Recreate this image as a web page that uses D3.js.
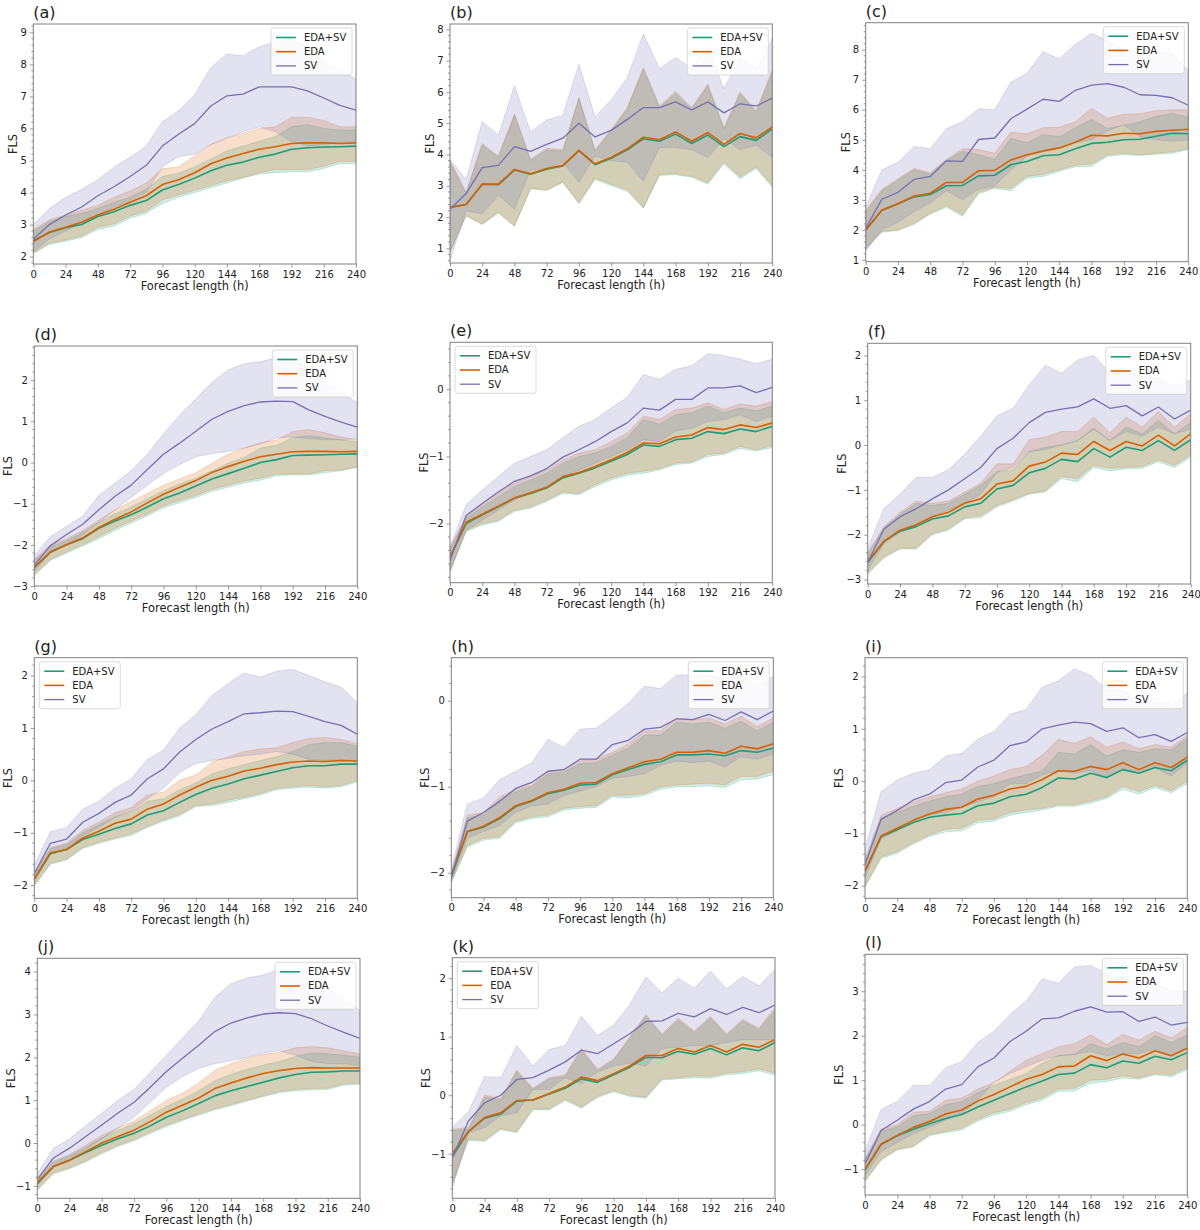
<!DOCTYPE html>
<html>
<head>
<meta charset="utf-8">
<title>FLS vs forecast length</title>
<script src="https://d3js.org/d3.v7.min.js"></script>
<style>
  body { margin: 0; background: #fff; }
  text { font-family: "DejaVu Sans", sans-serif; }
</style>
</head>
<body>
<div id="chart"></div>
<script>
// forecast hours and labels
var hours = [0,12,24,36,48,60,72,84,96,108,120,132,144,156,168,180,192,204,216,228,240];
var xTicks = [0,24,48,72,96,120,144,168,192,216,240];
var seriesNames = ["EDA+SV", "EDA", "SV"];
var panelLabels = ["(a)","(b)","(c)","(d)","(e)","(f)","(g)","(h)","(i)","(j)","(k)","(l)"];

// (a)
var a_edasv    = [2.50,2.75,2.90,3.00,3.25,3.40,3.60,3.75,4.08,4.25,4.45,4.68,4.85,4.95,5.10,5.20,5.35,5.40,5.42,5.43,5.45];
var a_edasv_lo = [2.10,2.38,2.48,2.60,2.85,2.95,3.20,3.35,3.65,3.85,4.00,4.15,4.30,4.45,4.58,4.62,4.65,4.65,4.75,4.90,4.90];
var a_edasv_hi = [2.80,3.10,3.25,3.35,3.50,3.70,3.85,4.10,4.50,4.60,4.80,5.05,5.30,5.45,5.60,5.75,6.05,6.12,6.00,5.95,5.95];
var a_eda      = [2.47,2.77,2.92,3.07,3.30,3.48,3.70,3.90,4.25,4.40,4.62,4.90,5.08,5.22,5.35,5.43,5.53,5.55,5.55,5.53,5.55];
var a_eda_lo   = [2.12,2.42,2.52,2.64,2.92,3.02,3.27,3.42,3.77,3.92,4.07,4.22,4.37,4.47,4.62,4.72,4.72,4.72,4.82,4.97,4.97];
var a_eda_hi   = [2.85,3.15,3.30,3.45,3.60,3.85,4.05,4.30,4.75,4.80,5.15,5.50,5.70,5.85,6.00,6.05,6.35,6.35,6.25,6.05,6.05];
var a_sv       = [2.55,3.00,3.30,3.55,3.90,4.18,4.50,4.85,5.45,5.82,6.15,6.70,7.02,7.07,7.30,7.30,7.30,7.17,6.95,6.72,6.57];
var a_sv_lo    = [2.15,2.55,2.80,3.05,3.30,3.55,3.75,4.00,4.80,5.12,5.20,5.50,5.70,5.90,6.05,5.90,5.60,5.45,5.50,5.55,5.60];
var a_sv_hi    = [3.00,3.50,3.85,4.10,4.40,4.80,5.10,5.45,6.22,6.55,7.05,7.90,8.32,8.27,8.55,8.70,8.80,8.55,8.10,7.80,7.55];
var a_yticks   = [2,3,4,5,6,7,8,9];

// (b)
var b_edasv    = [2.30,2.40,3.05,3.03,3.50,3.37,3.53,3.63,4.12,3.67,3.88,4.15,4.50,4.42,4.65,4.35,4.62,4.25,4.57,4.45,4.82];
var b_edasv_lo = [0.88,2.03,1.76,2.13,1.70,2.90,2.85,3.10,2.43,3.20,3.00,2.82,2.28,3.33,3.35,3.27,3.05,3.70,3.22,3.55,2.95];
var b_edasv_hi = [3.75,2.75,4.30,3.90,5.25,3.80,4.15,4.10,5.78,4.10,4.75,5.45,6.72,5.50,5.95,5.45,6.20,4.80,5.95,5.35,6.62];
var b_eda      = [2.32,2.40,3.05,3.05,3.52,3.38,3.55,3.65,4.13,3.70,3.90,4.18,4.55,4.47,4.72,4.42,4.70,4.32,4.67,4.53,4.88];
var b_eda_lo   = [0.90,2.05,1.78,2.15,1.72,2.92,2.87,3.12,2.45,3.25,3.05,2.87,2.30,3.37,3.38,3.30,3.10,3.75,3.28,3.60,3.00];
var b_eda_hi   = [3.80,2.80,4.35,3.95,5.30,3.85,4.20,4.15,5.82,4.15,4.80,5.50,6.78,5.55,6.02,5.50,6.25,4.85,6.00,5.40,6.70];
var b_sv       = [2.25,2.75,3.58,3.65,4.25,4.10,4.32,4.52,5.00,4.56,4.77,5.12,5.50,5.50,5.68,5.42,5.68,5.33,5.62,5.55,5.80];
var b_sv_lo    = [0.60,2.20,2.10,2.70,2.25,3.50,3.55,3.75,3.10,3.95,3.80,3.75,3.15,4.22,4.22,4.15,3.90,4.50,4.15,4.30,3.90];
var b_sv_hi    = [3.85,3.20,5.05,4.62,6.20,4.72,5.10,5.25,6.88,5.20,5.75,6.45,7.85,6.75,7.10,6.75,7.45,6.10,7.10,6.75,7.70];
var b_yticks   = [1,2,3,4,5,6,7,8];

// (c)
var c_edasv    = [2.00,2.65,2.87,3.10,3.18,3.47,3.48,3.80,3.82,4.17,4.28,4.47,4.50,4.70,4.88,4.92,5.00,5.02,5.12,5.22,5.20];
var c_edasv_lo = [1.35,1.92,1.98,2.18,2.52,2.75,2.45,3.20,3.38,3.30,3.72,3.78,3.95,4.10,4.12,4.45,4.50,4.48,4.52,4.55,4.68];
var c_edasv_hi = [2.60,3.30,3.65,4.00,3.85,4.30,4.62,4.50,4.35,5.05,4.90,5.18,5.10,5.40,5.68,5.38,5.48,5.60,5.78,5.88,5.75];
var c_eda      = [2.00,2.65,2.87,3.13,3.22,3.58,3.58,3.97,3.98,4.33,4.50,4.63,4.73,4.92,5.15,5.13,5.22,5.20,5.28,5.32,5.35];
var c_eda_lo   = [1.40,1.95,2.00,2.22,2.55,2.80,2.50,3.25,3.42,3.38,3.78,3.85,4.00,4.15,4.20,4.50,4.55,4.50,4.55,4.60,4.70];
var c_eda_hi   = [2.65,3.35,3.70,4.05,3.90,4.35,4.70,4.68,4.55,5.25,5.20,5.40,5.42,5.60,6.05,5.72,5.85,5.87,5.97,6.00,6.00];
var c_sv       = [2.05,3.02,3.25,3.68,3.78,4.30,4.28,5.01,5.06,5.70,6.02,6.35,6.28,6.65,6.82,6.87,6.75,6.50,6.48,6.40,6.15];
var c_sv_lo    = [1.30,2.00,2.25,2.60,2.90,3.30,3.00,3.35,3.45,4.00,4.45,4.60,4.70,4.90,5.00,5.30,5.50,5.10,5.00,4.95,5.00];
var c_sv_hi    = [2.75,4.00,4.25,4.78,4.70,5.37,5.60,6.03,6.00,6.92,7.22,7.93,7.70,8.18,8.55,8.30,8.00,7.95,7.90,7.88,7.30];
var c_yticks   = [1,2,3,4,5,6,7,8];

// (d)
var d_edasv    = [-2.55,-2.18,-2.00,-1.85,-1.60,-1.42,-1.27,-1.08,-0.88,-0.74,-0.57,-0.40,-0.27,-0.14,0.00,0.07,0.17,0.18,0.19,0.20,0.21];
var d_edasv_lo = [-2.75,-2.38,-2.20,-2.03,-1.85,-1.65,-1.47,-1.30,-1.10,-0.98,-0.85,-0.70,-0.60,-0.50,-0.43,-0.32,-0.30,-0.30,-0.25,-0.20,-0.12];
var d_edasv_hi = [-2.38,-2.05,-1.90,-1.70,-1.45,-1.25,-1.08,-0.88,-0.68,-0.52,-0.38,-0.20,-0.02,0.12,0.35,0.42,0.60,0.65,0.60,0.55,0.50];
var d_eda      = [-2.55,-2.17,-2.00,-1.83,-1.58,-1.38,-1.20,-0.98,-0.77,-0.60,-0.44,-0.24,-0.10,0.03,0.14,0.20,0.26,0.27,0.27,0.26,0.27];
var d_eda_lo   = [-2.72,-2.35,-2.17,-2.00,-1.80,-1.60,-1.42,-1.25,-1.05,-0.92,-0.80,-0.65,-0.55,-0.45,-0.38,-0.28,-0.28,-0.28,-0.20,-0.18,-0.10];
var d_eda_hi   = [-2.35,-2.00,-1.85,-1.65,-1.40,-1.15,-0.95,-0.75,-0.55,-0.40,-0.25,-0.02,0.20,0.35,0.48,0.55,0.75,0.80,0.72,0.62,0.55];
var d_sv       = [-2.50,-2.02,-1.75,-1.50,-1.15,-0.82,-0.55,-0.17,0.20,0.47,0.76,1.05,1.24,1.38,1.47,1.49,1.48,1.28,1.12,0.98,0.86];
var d_sv_lo    = [-2.65,-2.20,-2.00,-1.75,-1.45,-1.15,-0.85,-0.55,-0.27,-0.05,0.14,0.22,0.27,0.35,0.45,0.60,0.62,0.58,0.55,0.55,0.58];
var d_sv_hi    = [-2.25,-1.80,-1.55,-1.30,-0.80,-0.50,-0.20,0.20,0.70,1.15,1.55,1.95,2.25,2.40,2.45,2.55,2.50,2.30,2.00,1.70,1.45];
var d_yticks   = [-3,-2,-1,0,1,2];

// (e)
var e_edasv    = [-2.50,-2.00,-1.87,-1.75,-1.62,-1.55,-1.47,-1.32,-1.25,-1.17,-1.07,-0.97,-0.83,-0.85,-0.75,-0.73,-0.63,-0.66,-0.59,-0.63,-0.55];
var e_edasv_lo = [-2.72,-2.12,-2.02,-1.97,-1.82,-1.77,-1.67,-1.55,-1.57,-1.45,-1.35,-1.28,-1.25,-1.20,-1.12,-1.10,-1.00,-0.97,-0.88,-0.92,-0.87];
var e_edasv_hi = [-2.38,-1.92,-1.75,-1.60,-1.45,-1.35,-1.25,-1.10,-1.00,-0.95,-0.85,-0.72,-0.45,-0.52,-0.38,-0.35,-0.25,-0.35,-0.28,-0.32,-0.25];
var e_eda      = [-2.50,-1.98,-1.86,-1.74,-1.62,-1.54,-1.46,-1.30,-1.24,-1.15,-1.05,-0.94,-0.80,-0.81,-0.71,-0.68,-0.57,-0.60,-0.53,-0.57,-0.50];
var e_eda_lo   = [-2.70,-2.10,-2.00,-1.95,-1.80,-1.75,-1.65,-1.53,-1.55,-1.42,-1.32,-1.25,-1.22,-1.18,-1.10,-1.08,-0.97,-0.95,-0.85,-0.90,-0.84];
var e_eda_hi   = [-2.35,-1.90,-1.70,-1.55,-1.40,-1.30,-1.20,-1.05,-0.95,-0.90,-0.78,-0.65,-0.40,-0.45,-0.30,-0.28,-0.20,-0.30,-0.22,-0.25,-0.18];
var e_sv       = [-2.55,-1.88,-1.70,-1.53,-1.37,-1.29,-1.18,-1.01,-0.90,-0.78,-0.63,-0.50,-0.28,-0.31,-0.15,-0.15,0.02,0.02,0.05,-0.05,0.03];
var e_sv_lo    = [-2.70,-2.10,-1.95,-1.80,-1.65,-1.55,-1.45,-1.30,-1.20,-1.10,-1.00,-0.90,-0.75,-0.78,-0.62,-0.58,-0.48,-0.45,-0.38,-0.48,-0.40];
var e_sv_hi    = [-2.35,-1.72,-1.50,-1.30,-1.10,-1.00,-0.90,-0.72,-0.55,-0.45,-0.28,-0.12,0.22,0.15,0.30,0.35,0.53,0.50,0.45,0.38,0.45];
var e_yticks   = [-2,-1,0];

// (f)
var f_edasv    = [-2.62,-2.15,-1.92,-1.82,-1.65,-1.58,-1.38,-1.30,-0.98,-0.90,-0.62,-0.52,-0.32,-0.37,-0.08,-0.27,-0.05,-0.12,0.10,-0.12,0.12];
var f_edasv_lo = [-2.88,-2.52,-2.32,-2.32,-2.00,-1.90,-1.65,-1.62,-1.38,-1.25,-1.10,-1.05,-0.75,-0.82,-0.50,-0.58,-0.53,-0.52,-0.37,-0.50,-0.27];
var f_edasv_hi = [-2.45,-1.85,-1.55,-1.30,-1.35,-1.30,-1.10,-0.90,-0.60,-0.55,-0.15,-0.05,0.00,0.10,0.38,0.10,0.40,0.25,0.55,0.25,0.50];
var f_eda      = [-2.60,-2.15,-1.90,-1.78,-1.60,-1.50,-1.30,-1.20,-0.87,-0.80,-0.47,-0.38,-0.18,-0.21,0.08,-0.12,0.08,-0.02,0.22,-0.02,0.25];
var f_eda_lo   = [-2.85,-2.50,-2.30,-2.30,-1.98,-1.87,-1.62,-1.58,-1.35,-1.22,-1.08,-1.02,-0.70,-0.75,-0.45,-0.52,-0.50,-0.48,-0.33,-0.45,-0.22];
var f_eda_hi   = [-2.40,-1.82,-1.50,-1.25,-1.30,-1.25,-1.05,-0.85,-0.42,-0.42,0.12,0.18,0.30,0.30,0.62,0.28,0.62,0.40,0.75,0.40,0.70];
var f_sv       = [-2.62,-1.88,-1.60,-1.42,-1.20,-1.00,-0.75,-0.50,-0.08,0.15,0.50,0.73,0.80,0.85,1.03,0.82,0.88,0.65,0.85,0.58,0.78];
var f_sv_lo    = [-2.80,-2.20,-1.95,-1.80,-1.60,-1.45,-1.30,-1.10,-0.60,-0.50,-0.15,-0.10,0.00,0.10,0.35,0.10,0.30,0.20,0.40,0.25,0.35];
var f_sv_hi    = [-2.30,-1.42,-1.10,-0.72,-0.72,-0.55,-0.20,0.20,0.65,0.82,1.35,1.78,1.60,1.90,2.00,1.60,1.60,1.55,1.50,1.30,1.45];
var f_yticks   = [-3,-2,-1,0,1,2];

// (g)
var g_edasv    = [-1.88,-1.40,-1.32,-1.13,-1.03,-0.92,-0.83,-0.66,-0.58,-0.42,-0.27,-0.15,-0.07,0.03,0.10,0.17,0.24,0.28,0.28,0.31,0.31];
var g_edasv_lo = [-2.02,-1.60,-1.52,-1.30,-1.20,-1.12,-1.05,-0.90,-0.78,-0.68,-0.50,-0.48,-0.42,-0.35,-0.28,-0.18,-0.15,-0.13,-0.15,-0.12,-0.03];
var g_edasv_hi = [-1.80,-1.30,-1.23,-1.00,-0.85,-0.70,-0.60,-0.40,-0.35,-0.18,-0.05,0.12,0.22,0.30,0.38,0.45,0.55,0.68,0.72,0.72,0.65];
var g_eda      = [-1.88,-1.38,-1.32,-1.10,-0.97,-0.82,-0.74,-0.55,-0.45,-0.28,-0.13,0.00,0.08,0.18,0.23,0.30,0.35,0.37,0.36,0.38,0.37];
var g_eda_lo   = [-2.00,-1.58,-1.50,-1.28,-1.18,-1.10,-1.02,-0.88,-0.75,-0.65,-0.48,-0.45,-0.38,-0.32,-0.25,-0.15,-0.12,-0.10,-0.12,-0.10,0.00];
var g_eda_hi   = [-1.78,-1.28,-1.20,-0.95,-0.80,-0.62,-0.52,-0.28,-0.22,0.00,0.10,0.35,0.45,0.55,0.60,0.62,0.72,0.80,0.82,0.78,0.70];
var g_sv       = [-1.78,-1.20,-1.12,-0.80,-0.63,-0.42,-0.28,0.03,0.22,0.54,0.78,0.98,1.12,1.27,1.29,1.32,1.31,1.22,1.12,1.05,0.88];
var g_sv_lo    = [-1.95,-1.40,-1.30,-1.05,-0.90,-0.70,-0.58,-0.35,-0.15,0.15,0.32,0.38,0.42,0.47,0.50,0.55,0.50,0.40,0.38,0.40,0.35];
var g_sv_hi    = [-1.62,-0.98,-0.90,-0.55,-0.40,-0.15,0.03,0.40,0.58,1.00,1.25,1.62,1.85,2.05,1.97,2.08,2.12,2.00,1.88,1.78,1.48];
var g_yticks   = [-2,-1,0,1,2];

// (h)
var h_edasv    = [-2.05,-1.52,-1.47,-1.37,-1.23,-1.17,-1.08,-1.04,-0.98,-0.97,-0.86,-0.80,-0.74,-0.71,-0.63,-0.63,-0.62,-0.64,-0.58,-0.60,-0.55];
var h_edasv_lo = [-2.12,-1.70,-1.62,-1.60,-1.42,-1.37,-1.35,-1.27,-1.25,-1.24,-1.12,-1.13,-1.10,-1.03,-1.00,-1.00,-0.99,-1.01,-0.92,-0.91,-0.86];
var h_edasv_hi = [-2.02,-1.36,-1.33,-1.16,-1.06,-1.00,-0.85,-0.83,-0.73,-0.72,-0.63,-0.55,-0.40,-0.40,-0.25,-0.27,-0.25,-0.32,-0.24,-0.35,-0.25];
var h_eda      = [-2.03,-1.52,-1.46,-1.36,-1.22,-1.16,-1.07,-1.03,-0.96,-0.95,-0.85,-0.78,-0.71,-0.68,-0.60,-0.60,-0.58,-0.61,-0.53,-0.56,-0.50];
var h_eda_lo   = [-2.10,-1.68,-1.60,-1.58,-1.40,-1.35,-1.33,-1.25,-1.23,-1.22,-1.10,-1.10,-1.08,-1.00,-0.98,-0.97,-0.96,-0.98,-0.88,-0.88,-0.82];
var h_eda_hi   = [-2.00,-1.33,-1.30,-1.12,-1.03,-0.98,-0.82,-0.80,-0.70,-0.68,-0.60,-0.50,-0.35,-0.35,-0.20,-0.22,-0.20,-0.27,-0.18,-0.30,-0.20];
var h_sv       = [-2.05,-1.40,-1.30,-1.17,-1.02,-0.95,-0.82,-0.80,-0.68,-0.68,-0.51,-0.46,-0.33,-0.31,-0.21,-0.22,-0.16,-0.23,-0.13,-0.22,-0.12];
var h_sv_lo    = [-2.10,-1.60,-1.52,-1.45,-1.30,-1.22,-1.20,-1.10,-1.05,-1.00,-0.90,-0.88,-0.85,-0.75,-0.70,-0.72,-0.70,-0.77,-0.65,-0.68,-0.62];
var h_sv_hi    = [-1.95,-1.20,-1.13,-0.92,-0.82,-0.72,-0.45,-0.54,-0.33,-0.32,-0.18,-0.03,0.17,0.14,0.30,0.30,0.30,0.25,0.30,0.18,0.28];
var h_yticks   = [-2,-1,0];

// (i)
var i_edasv    = [-1.72,-1.06,-0.93,-0.79,-0.69,-0.65,-0.62,-0.47,-0.42,-0.30,-0.25,-0.12,0.06,0.04,0.15,0.07,0.22,0.15,0.26,0.20,0.40];
var i_edasv_lo = [-2.02,-1.48,-1.38,-1.20,-1.06,-0.97,-0.95,-0.80,-0.76,-0.65,-0.60,-0.55,-0.48,-0.48,-0.42,-0.33,-0.15,-0.25,-0.12,-0.22,-0.05];
var i_edasv_hi = [-1.55,-0.70,-0.60,-0.48,-0.38,-0.30,-0.25,-0.10,-0.05,0.05,0.12,0.20,0.55,0.52,0.70,0.48,0.60,0.55,0.62,0.60,0.82];
var i_eda      = [-1.72,-1.05,-0.90,-0.75,-0.63,-0.54,-0.50,-0.34,-0.27,-0.15,-0.10,0.03,0.20,0.19,0.28,0.22,0.35,0.22,0.35,0.26,0.46];
var i_eda_lo   = [-2.00,-1.45,-1.35,-1.18,-1.03,-0.92,-0.90,-0.75,-0.72,-0.60,-0.55,-0.52,-0.45,-0.45,-0.38,-0.30,-0.10,-0.20,-0.08,-0.18,0.00];
var i_eda_hi   = [-1.50,-0.65,-0.52,-0.40,-0.30,-0.22,-0.15,0.00,0.10,0.22,0.28,0.50,0.80,0.72,0.85,0.65,0.75,0.62,0.70,0.65,0.88];
var i_sv       = [-1.60,-0.73,-0.56,-0.36,-0.25,-0.03,0.02,0.27,0.40,0.68,0.75,1.00,1.07,1.13,1.10,0.95,1.02,0.83,0.89,0.76,0.93];
var i_sv_lo    = [-1.85,-1.10,-0.95,-0.75,-0.65,-0.60,-0.50,-0.40,-0.30,-0.05,-0.05,0.12,0.20,0.15,0.20,0.05,0.25,0.15,0.25,0.10,0.35];
var i_sv_hi    = [-1.30,-0.20,0.02,0.15,0.22,0.48,0.53,0.80,0.95,1.28,1.37,1.80,1.92,2.15,2.02,1.75,1.75,1.55,1.60,1.45,1.68];
var i_yticks   = [-2,-1,0,1,2];

// (j)
var j_edasv    = [-0.95,-0.55,-0.40,-0.22,-0.05,0.10,0.23,0.40,0.60,0.75,0.92,1.10,1.22,1.32,1.42,1.52,1.60,1.65,1.66,1.68,1.68];
var j_edasv_lo = [-1.10,-0.72,-0.60,-0.44,-0.25,-0.08,0.05,0.22,0.38,0.52,0.65,0.77,0.87,0.98,1.08,1.17,1.22,1.24,1.25,1.35,1.37];
var j_edasv_hi = [-0.85,-0.45,-0.30,-0.10,0.12,0.30,0.45,0.65,0.85,1.02,1.22,1.45,1.60,1.72,1.82,1.90,2.02,2.10,2.08,2.05,2.00];
var j_eda      = [-0.92,-0.55,-0.40,-0.20,0.00,0.15,0.30,0.50,0.72,0.88,1.05,1.27,1.40,1.52,1.62,1.69,1.74,1.76,1.75,1.75,1.75];
var j_eda_lo   = [-1.08,-0.70,-0.58,-0.42,-0.22,-0.05,0.08,0.25,0.42,0.55,0.68,0.80,0.90,1.00,1.10,1.20,1.25,1.27,1.28,1.38,1.40];
var j_eda_hi   = [-0.82,-0.42,-0.27,-0.05,0.18,0.35,0.52,0.75,1.00,1.16,1.40,1.70,1.85,1.98,2.07,2.12,2.22,2.25,2.22,2.15,2.08];
var j_sv       = [-0.85,-0.35,-0.12,0.15,0.42,0.70,0.95,1.30,1.67,1.98,2.28,2.60,2.80,2.92,3.01,3.04,3.02,2.90,2.73,2.58,2.44];
var j_sv_lo    = [-1.00,-0.55,-0.40,-0.15,0.10,0.35,0.60,0.95,1.30,1.55,1.74,1.85,1.92,2.00,2.10,2.15,2.05,1.90,1.85,1.85,1.80];
var j_sv_hi    = [-0.72,-0.12,0.10,0.40,0.70,1.00,1.25,1.65,2.05,2.45,2.85,3.40,3.72,3.85,3.92,4.05,3.95,3.80,3.60,3.35,3.10];
var j_yticks   = [-1,0,1,2,3,4];

// (k)
var k_edasv    = [-1.05,-0.62,-0.39,-0.32,-0.10,-0.08,0.02,0.12,0.28,0.22,0.35,0.48,0.65,0.64,0.75,0.70,0.80,0.69,0.81,0.76,0.90];
var k_edasv_lo = [-1.52,-0.77,-0.79,-0.59,-0.64,-0.25,-0.25,-0.09,-0.22,-0.04,0.06,-0.02,-0.05,0.26,0.28,0.30,0.29,0.35,0.37,0.42,0.34];
var k_edasv_hi = [-0.60,-0.58,-0.03,-0.08,0.40,0.10,0.28,0.32,0.77,0.42,0.60,0.97,1.35,1.02,1.28,1.07,1.32,1.02,1.27,1.12,1.45];
var k_eda      = [-1.00,-0.62,-0.38,-0.30,-0.09,-0.08,0.03,0.14,0.31,0.25,0.37,0.50,0.68,0.68,0.80,0.74,0.85,0.74,0.87,0.82,0.95];
var k_eda_lo   = [-1.50,-0.75,-0.77,-0.57,-0.62,-0.23,-0.23,-0.07,-0.20,-0.02,0.08,0.00,-0.03,0.28,0.30,0.33,0.32,0.38,0.40,0.45,0.38];
var k_eda_hi   = [-0.58,-0.55,0.00,-0.05,0.43,0.12,0.30,0.35,0.80,0.45,0.62,1.00,1.38,1.05,1.32,1.10,1.35,1.05,1.30,1.15,1.50];
var k_sv       = [-1.08,-0.44,-0.13,0.00,0.27,0.30,0.43,0.57,0.77,0.71,0.88,1.05,1.26,1.27,1.40,1.34,1.48,1.38,1.50,1.41,1.54];
var k_sv_lo    = [-1.60,-0.65,-0.55,-0.35,-0.30,0.10,0.10,0.30,0.20,0.40,0.50,0.55,0.50,0.80,0.82,0.85,0.85,0.90,0.95,0.95,0.95];
var k_sv_hi    = [-0.55,-0.28,0.32,0.30,0.85,0.50,0.78,0.85,1.35,1.02,1.20,1.55,2.02,1.75,2.00,1.83,2.12,1.82,2.03,1.87,2.15];
var k_yticks   = [-1,0,1,2];

// (l)
var l_edasv    = [-1.02,-0.44,-0.25,-0.10,0.02,0.14,0.23,0.40,0.55,0.70,0.85,0.98,1.13,1.16,1.35,1.28,1.43,1.38,1.54,1.46,1.62];
var l_edasv_lo = [-1.28,-0.80,-0.57,-0.50,-0.25,-0.18,-0.12,0.08,0.22,0.30,0.45,0.55,0.75,0.76,0.93,0.97,1.05,1.02,1.12,1.08,1.23];
var l_edasv_hi = [-0.80,-0.15,-0.05,0.20,0.25,0.45,0.52,0.72,0.88,1.02,1.15,1.38,1.55,1.58,1.82,1.70,1.85,1.75,2.00,1.85,2.02];
var l_eda      = [-1.00,-0.44,-0.24,-0.06,0.07,0.24,0.33,0.53,0.68,0.85,1.02,1.13,1.30,1.32,1.55,1.44,1.59,1.50,1.66,1.55,1.72];
var l_eda_lo   = [-1.25,-0.78,-0.55,-0.48,-0.22,-0.15,-0.08,0.12,0.27,0.35,0.50,0.60,0.80,0.82,1.00,1.02,1.10,1.05,1.15,1.12,1.28];
var l_eda_hi   = [-0.75,-0.10,0.00,0.28,0.30,0.55,0.60,0.80,0.95,1.20,1.45,1.60,1.75,1.82,2.02,1.80,2.03,1.90,2.10,1.95,2.18];
var l_sv       = [-0.88,-0.13,0.10,0.35,0.52,0.80,0.90,1.30,1.50,1.87,2.10,2.38,2.40,2.55,2.65,2.53,2.54,2.32,2.42,2.24,2.30];
var l_sv_lo    = [-1.15,-0.60,-0.40,-0.20,-0.05,0.10,0.25,0.55,0.95,1.15,1.30,1.45,1.55,1.58,1.65,1.55,1.60,1.60,1.70,1.55,1.75];
var l_sv_hi    = [-0.60,0.35,0.52,0.88,0.88,1.28,1.42,1.85,2.10,2.48,2.78,3.28,3.18,3.55,3.58,3.40,3.30,3.20,3.20,3.00,3.00];
var l_yticks   = [-1,0,1,2,3];

// table of panels built from the arrays above
var panels = [
  { series: [[a_edasv, a_edasv_lo, a_edasv_hi], [a_eda, a_eda_lo, a_eda_hi], [a_sv, a_sv_lo, a_sv_hi]], yTicks: a_yticks },
  { series: [[b_edasv, b_edasv_lo, b_edasv_hi], [b_eda, b_eda_lo, b_eda_hi], [b_sv, b_sv_lo, b_sv_hi]], yTicks: b_yticks },
  { series: [[c_edasv, c_edasv_lo, c_edasv_hi], [c_eda, c_eda_lo, c_eda_hi], [c_sv, c_sv_lo, c_sv_hi]], yTicks: c_yticks },
  { series: [[d_edasv, d_edasv_lo, d_edasv_hi], [d_eda, d_eda_lo, d_eda_hi], [d_sv, d_sv_lo, d_sv_hi]], yTicks: d_yticks },
  { series: [[e_edasv, e_edasv_lo, e_edasv_hi], [e_eda, e_eda_lo, e_eda_hi], [e_sv, e_sv_lo, e_sv_hi]], yTicks: e_yticks },
  { series: [[f_edasv, f_edasv_lo, f_edasv_hi], [f_eda, f_eda_lo, f_eda_hi], [f_sv, f_sv_lo, f_sv_hi]], yTicks: f_yticks },
  { series: [[g_edasv, g_edasv_lo, g_edasv_hi], [g_eda, g_eda_lo, g_eda_hi], [g_sv, g_sv_lo, g_sv_hi]], yTicks: g_yticks },
  { series: [[h_edasv, h_edasv_lo, h_edasv_hi], [h_eda, h_eda_lo, h_eda_hi], [h_sv, h_sv_lo, h_sv_hi]], yTicks: h_yticks },
  { series: [[i_edasv, i_edasv_lo, i_edasv_hi], [i_eda, i_eda_lo, i_eda_hi], [i_sv, i_sv_lo, i_sv_hi]], yTicks: i_yticks },
  { series: [[j_edasv, j_edasv_lo, j_edasv_hi], [j_eda, j_eda_lo, j_eda_hi], [j_sv, j_sv_lo, j_sv_hi]], yTicks: j_yticks },
  { series: [[k_edasv, k_edasv_lo, k_edasv_hi], [k_eda, k_eda_lo, k_eda_hi], [k_sv, k_sv_lo, k_sv_hi]], yTicks: k_yticks },
  { series: [[l_edasv, l_edasv_lo, l_edasv_hi], [l_eda, l_eda_lo, l_eda_hi], [l_sv, l_sv_lo, l_sv_hi]], yTicks: l_yticks }
];

// layout: plot frame in pixels, y limits, legend side
var layout = [
  { left: 33.3,  right: 356,    top: 24,    bottom: 264,    ylim: [1.77, 9.26],  legend: "right" },
  { left: 450,   right: 772.3,  top: 24,    bottom: 263,    ylim: [0.53, 8.17],  legend: "right" },
  { left: 865.7, right: 1188.3, top: 22.7,  bottom: 261.7,  ylim: [0.94, 8.90],  legend: "right" },
  { left: 34.3,  right: 357.3,  top: 346,   bottom: 586,    ylim: [-3.0, 2.83],  legend: "right" },
  { left: 450,   right: 772.3,  top: 342.3, bottom: 582.7,  ylim: [-2.88, 0.70], legend: "left" },
  { left: 867.7, right: 1190.7, top: 343.3, bottom: 584,    ylim: [-3.10, 2.27], legend: "right" },
  { left: 34.3,  right: 357.3,  top: 657.7, bottom: 898.3,  ylim: [-2.25, 2.34], legend: "left" },
  { left: 451.3, right: 773.3,  top: 657.7, bottom: 897.7,  ylim: [-2.29, 0.50], legend: "right" },
  { left: 865,   right: 1187.3, top: 657.7, bottom: 898.3,  ylim: [-2.24, 2.36], legend: "right" },
  { left: 37.3,  right: 360,    top: 958.3, bottom: 1198.3, ylim: [-1.29, 4.31], legend: "right" },
  { left: 452.3, right: 775,    top: 957.7, bottom: 1198.3, ylim: [-1.76, 2.35], legend: "left" },
  { left: 865,   right: 1187.3, top: 954.3, bottom: 1195,   ylim: [-1.58, 3.83], legend: "right" }
];

var colors = ["#1b9e77", "#d95f02", "#7570b3"];
var lineWidths = [1.6, 1.6, 1.3];
var axisColor = "#808080";
var textColor = "#222";

var svg = d3.select("#chart")
    .append("svg")
    .attr("width", 1200)
    .attr("height", 1230)
    .style("background", "#fff");

panels.forEach(function(p, i) {
    var L = layout[i];
    var x = d3.scaleLinear().domain([0, 240]).range([L.left, L.right]);
    var y = d3.scaleLinear().domain(L.ylim).range([L.bottom, L.top]);
    var g = svg.append("g");

    // clip to the axes box
    var clipId = "clip" + i;
    g.append("clipPath").attr("id", clipId)
        .append("rect")
        .attr("x", L.left).attr("y", L.top)
        .attr("width", L.right - L.left).attr("height", L.bottom - L.top);
    var plot = g.append("g").attr("clip-path", "url(#" + clipId + ")");

    // shaded spread bands
    p.series.forEach(function(s, k) {
        var area = d3.area()
            .x(function(d, j) { return x(hours[j]); })
            .y0(function(d, j) { return y(s[1][j]); })
            .y1(function(d, j) { return y(s[2][j]); });
        plot.append("path")
            .attr("d", area(hours))
            .attr("fill", colors[k])
            .attr("fill-opacity", 0.2)
            .attr("stroke", colors[k])
            .attr("stroke-opacity", 0.2)
            .attr("stroke-width", 1);
    });

    // mean lines
    p.series.forEach(function(s, k) {
        var line = d3.line()
            .x(function(d, j) { return x(hours[j]); })
            .y(function(d) { return y(d); });
        plot.append("path")
            .attr("d", line(s[0]))
            .attr("fill", "none")
            .attr("stroke", colors[k])
            .attr("stroke-width", lineWidths[k])
            .attr("stroke-linejoin", "round");
    });

    // x axis
    var xAxis = g.append("g")
        .attr("transform", "translate(0," + L.bottom + ")")
        .call(d3.axisBottom(x).tickValues(xTicks).tickSize(3.5).tickPadding(3));
    // y axis
    var yAxis = g.append("g")
        .attr("transform", "translate(" + L.left + ",0)")
        .call(d3.axisLeft(y).tickValues(p.yTicks).tickFormat(d3.format("d")).tickSize(3.5).tickPadding(3));

    // minor y ticks every 0.2
    var minor = d3.range(Math.ceil(L.ylim[0] * 5), Math.floor(L.ylim[1] * 5) + 1)
        .filter(function(v) { return v % 5 !== 0; })
        .map(function(v) { return v / 5; });
    g.selectAll(null).data(minor).enter().append("line")
        .attr("x1", L.left - 2).attr("x2", L.left)
        .attr("y1", function(d) { return y(d); })
        .attr("y2", function(d) { return y(d); })
        .attr("stroke", axisColor).attr("stroke-width", 0.8);

    [xAxis, yAxis].forEach(function(ax) {
        ax.select(".domain").remove();
        ax.selectAll("line").attr("stroke", axisColor).attr("stroke-width", 0.8);
        ax.selectAll("text").attr("fill", textColor).style("font-size", "10px")
            .style("font-family", "'DejaVu Sans', sans-serif");
    });

    // frame
    g.append("rect")
        .attr("x", L.left).attr("y", L.top)
        .attr("width", L.right - L.left).attr("height", L.bottom - L.top)
        .attr("fill", "none").attr("stroke", axisColor).attr("stroke-width", 1);

    // panel label
    g.append("text")
        .attr("x", L.left).attr("y", L.top - 6)
        .attr("fill", textColor)
        .style("font-size", "16px")
        .text(panelLabels[i]);

    // axis labels
    g.append("text")
        .attr("x", (L.left + L.right) / 2).attr("y", L.bottom + 25.5)
        .attr("text-anchor", "middle")
        .attr("fill", textColor)
        .style("font-size", "11.4px")
        .text("Forecast length (h)");

    // y label sits just left of the tick labels (bbox is in the axis group's own coordinates)
    var yb = yAxis.node().getBBox();
    var cy = (L.top + L.bottom) / 2;
    var lx = L.left + Math.max(yb.x - 3, -22);
    g.append("text")
        .attr("transform", "translate(" + lx + "," + cy + ") rotate(-90)")
        .attr("text-anchor", "middle")
        .attr("fill", textColor)
        .style("font-size", "11.4px")
        .text("FLS");

    // legend
    var lw = 81, lh = 47;
    var legX = L.legend === "right" ? L.right - 4 - lw : L.left + 5;
    var legY = L.top + 4;
    var lg = g.append("g").attr("transform", "translate(" + legX + "," + legY + ")");
    lg.append("rect")
        .attr("width", lw).attr("height", lh).attr("rx", 2.5)
        .attr("fill", "#fff").attr("fill-opacity", 0.8)
        .attr("stroke", "#d0d0d0").attr("stroke-width", 0.8);
    seriesNames.forEach(function(name, k) {
        var ry = 9.5 + k * 14.2;
        lg.append("line")
            .attr("x1", 5).attr("x2", 25).attr("y1", ry).attr("y2", ry)
            .attr("stroke", colors[k]).attr("stroke-width", lineWidths[k]);
        lg.append("text")
            .attr("x", 33).attr("y", ry).attr("dy", "0.35em")
            .attr("fill", textColor)
            .style("font-size", "10px")
            .text(name);
    });
});
</script>
</body>
</html>
